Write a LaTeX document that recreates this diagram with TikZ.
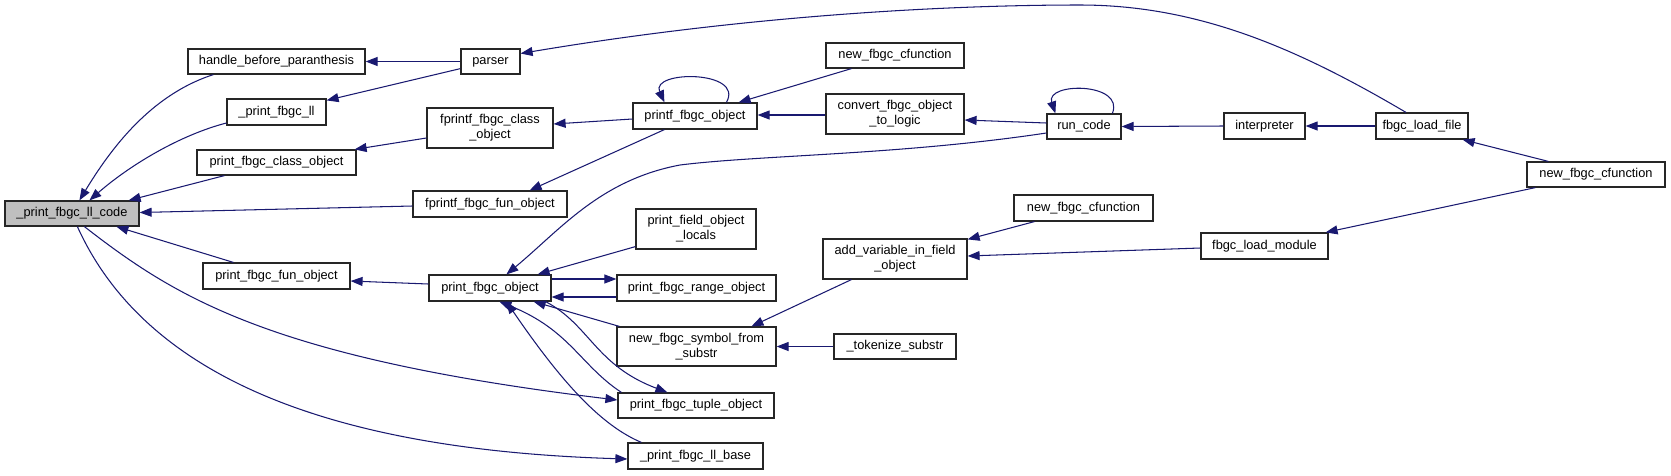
\documentclass[tikz,border=0pt]{standalone}
\usepackage{fontspec}
\setmainfont{Liberation Sans}
\usetikzlibrary{arrows.meta,calc}
\definecolor{edgeblue}{HTML}{191970}
\definecolor{rootgray}{HTML}{BFBFBF}
\definecolor{boxline}{HTML}{262626}
\begin{document}
\begin{tikzpicture}[x=1pt,y=-1pt,
  fn/.style={draw=boxline, line width=1.2pt, rectangle, inner sep=0pt, fill=white,
    font=\fontsize{12.8}{15}\selectfont, align=center},
  one/.style={text height=9.6pt, text depth=2.9pt},
  ca/.style={draw=edgeblue, line width=1.05pt, -{Triangle[length=12pt,width=9pt]}},
]
\useasboundingbox (0,0) rectangle (1671,475);

% nodes
\node[fn,one,fill=rootgray,minimum width=134pt,minimum height=25pt] (code) at (72,213.5) {\_print\_fbgc\_ll\_code};
\node[fn,one,minimum width=177pt,minimum height=25pt] (hbp) at (276.5,61.5) {handle\_before\_paranthesis};
\node[fn,one,minimum width=59pt,minimum height=25pt] (parser) at (490.5,61.5) {parser};
\node[fn,one,minimum width=99pt,minimum height=26pt] (pll) at (276.5,112) {\_print\_fbgc\_ll};
\node[fn,minimum width=126pt,minimum height=40pt] (fcls) at (490,128) {fprintf\_fbgc\_class\\\_object};
\node[fn,one,minimum width=159pt,minimum height=25pt] (pcls) at (276.5,162.5) {print\_fbgc\_class\_object};
\node[fn,one,minimum width=154pt,minimum height=26pt] (ffun) at (490,204) {fprintf\_fbgc\_fun\_object};
\node[fn,one,minimum width=147pt,minimum height=26pt] (pfun) at (276.5,276) {print\_fbgc\_fun\_object};
\node[fn,one,minimum width=122pt,minimum height=26pt] (pobj) at (490,288) {print\_fbgc\_object};
\node[fn,one,minimum width=124pt,minimum height=26pt] (printf) at (695,116) {printf\_fbgc\_object};
\node[fn,minimum width=120pt,minimum height=40pt] (locals) at (696,229) {print\_field\_object\\\_locals};
\node[fn,one,minimum width=159pt,minimum height=26pt] (range) at (696.5,288) {print\_fbgc\_range\_object};
\node[fn,minimum width=159pt,minimum height=39pt] (nsym) at (696.5,346.5) {new\_fbgc\_symbol\_from\\\_substr};
\node[fn,one,minimum width=156pt,minimum height=25pt] (tuple) at (696,405.5) {print\_fbgc\_tuple\_object};
\node[fn,one,minimum width=135pt,minimum height=26pt] (llbase) at (695.5,456) {\_print\_fbgc\_ll\_base};
\node[fn,one,minimum width=138pt,minimum height=25pt] (ncf1) at (895,55.5) {new\_fbgc\_cfunction};
\node[fn,minimum width=138pt,minimum height=40pt] (convert) at (895,114) {convert\_fbgc\_object\\\_to\_logic};
\node[fn,minimum width=144pt,minimum height=40pt] (addvar) at (895,259) {add\_variable\_in\_field\\\_object};
\node[fn,one,minimum width=122pt,minimum height=25pt] (tok) at (895,346.5) {\_tokenize\_substr};
\node[fn,one,minimum width=74pt,minimum height=25pt] (run) at (1084,126.5) {run\_code};
\node[fn,one,minimum width=139pt,minimum height=26pt] (ncf2) at (1083.5,208) {new\_fbgc\_cfunction};
\node[fn,one,minimum width=81pt,minimum height=26pt] (interp) at (1264.5,126) {interpreter};
\node[fn,one,minimum width=127pt,minimum height=26pt] (lmod) at (1264.5,246) {fbgc\_load\_module};
\node[fn,one,minimum width=92pt,minimum height=26pt] (lfile) at (1422,126) {fbgc\_load\_file};
\node[fn,one,minimum width=138pt,minimum height=25pt] (ncf3) at (1596,174.5) {new\_fbgc\_cfunction};

% edges
\draw[ca] (parser.west) -- (hbp.east);
\draw[ca] ($(parser.south west)+(0,-6)$) -- ($(pll.north east)+(0,2)$);
\draw[ca] ($(lfile.north)+(-16,0)$) .. controls (1300,50) and (1200,5) .. (1080,5)
   .. controls (950,5) and (750,15) .. ($(parser.east)+(0,-8)$);
\draw[ca] ($(hbp.south west)+(26,0)$) .. controls (150,95) and (110,150) .. ($(code.north west)+(75,0)$);
\draw[ca] ($(pll.west)+(0,11)$) .. controls (180,135) and (130,165) .. ($(code.north west)+(85,0)$);
\draw[ca] ($(pcls.south west)+(28,0)$) -- ($(code.north east)+(-11,0)$);
\draw[ca] ($(ffun.west)+(0,2)$) -- ($(code.east)+(0,-1)$);
\draw[ca] ($(pfun.north west)+(31,0)$) -- ($(code.south west)+(112,0)$);
\draw[ca] ($(fcls.west)+(0,10)$) -- ($(pcls.north east)+(-2,0)$);
\draw[ca] ($(printf.west)+(0,3)$) -- ($(fcls.east)+(0,-4)$);
\draw[ca] ($(printf.south west)+(32,0)$) -- ($(ffun.north east)+(-38,0)$);
\draw[ca] ($(printf.north west)+(94,0)$) .. controls (745,70) and (650,70) .. ($(printf.north west)+(32,0)$);
\draw[ca] ($(ncf1.south west)+(26,0)$) -- ($(printf.north east)+(-19,0)$);
\draw[ca] ($(convert.west)+(0,1)$) -- ($(printf.east)+(0,-1)$);
\draw[ca] ($(run.west)+(0,-3.5)$) -- ($(convert.east)+(0,6)$);
\draw[ca] ($(run.north west)+(66,0)$) .. controls (1125,82) and (1045,82) .. ($(run.north west)+(9,0)$);
\draw[ca] (interp.west) -- (run.east);
\draw[ca] (lfile.west) -- (interp.east);
\draw[ca] ($(ncf3.north west)+(22,0)$) -- ($(lfile.south east)+(-6,0)$);
\draw[ca] ($(ncf3.south west)+(9,0)$) -- ($(lmod.north east)+(-3,0)$);
\draw[ca] ($(lmod.west)+(0,2)$) -- ($(addvar.east)+(0,-3)$);
\draw[ca] ($(ncf2.south west)+(21,0)$) -- ($(addvar.north east)+(0,1)$);
\draw[ca] ($(addvar.south west)+(29,0)$) -- ($(nsym.north west)+(135,0)$);
\draw[ca] (tok.west) -- (nsym.east);
\draw[ca] ($(run.west)+(0,6.5)$) .. controls (900,155) and (760,155) .. (680,165)
   .. controls (600,180) and (560,230) .. ($(pobj.north west)+(78,0)$);
\draw[ca] ($(pobj.west)+(0,-4)$) -- ($(pfun.east)+(0,5)$);
\draw[ca] ($(locals.south west)+(0,-3)$) -- ($(pobj.north east)+(-14,0)$);
\draw[ca] ($(pobj.east)+(0,-9)$) -- ($(range.west)+(0,-9)$);
\draw[ca] ($(range.west)+(0,9)$) -- ($(pobj.east)+(0,9)$);
\draw[ca] ($(nsym.north west)+(3,0)$) -- ($(pobj.south east)+(-18,0)$);
\draw[ca] ($(pobj.south east)+(-6,0)$) .. controls (590,325) and (595,365) .. ($(tuple.north west)+(50,0)$);
\draw[ca] ($(tuple.north west)+(4,0)$) .. controls (580,365) and (570,330) .. ($(pobj.south west)+(71,0)$);
\draw[ca] ($(llbase.north west)+(14,0)$) .. controls (600,425) and (560,380) .. ($(pobj.south west)+(78,0)$);
\draw[ca] ($(code.south west)+(80,0)$) .. controls (174,296) and (268,358) .. ($(tuple.west)+(0,-5.5)$);
\draw[ca] ($(code.south west)+(73,0)$) .. controls (145,376) and (328,450) .. ($(llbase.west)+(0,3)$);
\end{tikzpicture}
\end{document}
